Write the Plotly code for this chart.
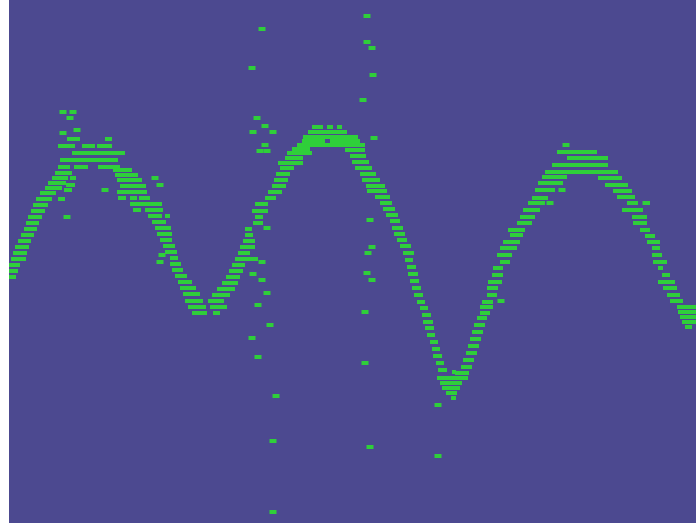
import plotly.graph_objects as go

# Each band segment: list of horizontal runs (start x, end x, level)
rise_1 = [
    (9, 16, 277), (9, 18, 271), (9, 20, 265), (11, 26, 259), (13, 27, 253), (15, 29, 247),
    (18, 31, 241), (21, 34, 235), (24, 37, 229), (26, 39, 223), (28, 42, 217), (31, 45, 211),
    (33, 48, 205), (36, 52, 199), (58, 65, 199), (40, 56, 193), (45, 62, 188), (64, 72, 190),
    (48, 66, 183), (66, 75, 185), (52, 68, 178), (70, 76, 178), (55, 72, 173),
]
peak_1 = [
    (58, 70, 167), (74, 88, 167), (98, 120, 167), (60, 118, 160), (72, 125, 153),
    (58, 75, 146), (82, 95, 146), (97, 112, 146), (67, 80, 139), (105, 112, 139),
]
fall_1 = [
    (113, 132, 170), (115, 138, 175), (117, 142, 180), (120, 146, 186), (117, 147, 192),
    (118, 126, 198), (130, 137, 198), (139, 150, 198), (130, 162, 204), (133, 141, 210),
    (145, 163, 210), (148, 162, 216), (165, 170, 216), (152, 166, 222), (155, 171, 228),
    (157, 172, 234), (160, 172, 240), (163, 175, 246), (165, 177, 252), (170, 178, 258),
    (170, 181, 264), (172, 183, 270), (175, 187, 276), (178, 192, 282), (180, 196, 288),
    (183, 200, 294), (185, 203, 301), (188, 206, 307), (192, 207, 313),
]
trough_1 = [
    (208, 224, 301), (210, 227, 307), (213, 220, 313),
]
rise_2 = [
    (212, 230, 295), (217, 235, 289), (222, 238, 283), (226, 240, 277), (229, 243, 271),
    (232, 245, 265), (235, 258, 259), (238, 250, 253), (240, 255, 247), (243, 255, 241),
    (245, 253, 235), (245, 252, 229), (253, 263, 223), (255, 263, 217), (252, 268, 211),
    (255, 268, 204), (265, 276, 198), (268, 282, 192), (272, 286, 186), (274, 288, 180),
    (276, 290, 174), (280, 294, 168), (278, 303, 163), (285, 303, 158), (287, 312, 153),
]
peak_2 = [
    (292, 310, 149), (297, 365, 145), (302, 325, 141), (330, 360, 141), (303, 358, 137),
    (308, 347, 132), (312, 323, 127), (327, 333, 127), (337, 342, 127),
]
fall_2 = [
    (345, 365, 150), (350, 366, 156), (352, 369, 162), (355, 372, 168), (360, 376, 174),
    (362, 380, 180), (366, 385, 186), (367, 387, 191), (375, 390, 197), (380, 392, 203),
    (383, 395, 209), (386, 398, 215), (390, 400, 221), (392, 403, 228), (394, 405, 234),
    (397, 407, 240), (400, 411, 246), (403, 414, 253), (405, 413, 260), (407, 416, 267),
    (408, 418, 274), (410, 419, 281), (412, 421, 288), (414, 423, 295), (417, 425, 302),
    (420, 428, 308), (422, 431, 315), (423, 433, 322), (425, 434, 328), (427, 435, 335),
    (430, 438, 342), (432, 440, 349), (433, 442, 356), (436, 444, 363), (438, 447, 370),
]
trough_2 = [
    (452, 456, 372), (437, 468, 378), (440, 462, 383), (442, 460, 388), (446, 457, 393),
    (451, 456, 398),
]
rise_3 = [
    (455, 469, 373), (461, 472, 367), (463, 474, 360), (466, 477, 353), (468, 479, 346),
    (470, 481, 339), (472, 483, 332), (474, 485, 325), (477, 487, 318), (480, 490, 313),
    (480, 493, 307), (482, 493, 302), (487, 497, 295), (487, 498, 288), (488, 502, 282),
    (492, 503, 275), (493, 503, 268), (500, 510, 262), (497, 512, 255), (500, 517, 248),
    (503, 520, 242), (510, 523, 235), (508, 525, 230), (517, 532, 223), (520, 535, 217),
    (523, 540, 210), (528, 545, 203), (532, 548, 198), (535, 555, 190), (538, 563, 183),
    (542, 567, 177),
]
peak_3 = [
    (545, 618, 172), (552, 608, 165), (567, 608, 158), (557, 597, 152),
]
fall_3 = [
    (598, 622, 178), (605, 628, 185), (613, 632, 191), (617, 635, 197), (627, 638, 203),
    (643, 650, 203), (622, 643, 210), (632, 647, 217), (633, 647, 223), (640, 650, 230),
    (645, 655, 236), (647, 660, 242), (652, 660, 248), (652, 662, 255), (653, 667, 262),
    (658, 663, 268), (662, 670, 275), (658, 675, 282), (663, 677, 288), (667, 680, 295),
    (670, 683, 301), (677, 696, 307), (678, 696, 312), (680, 696, 317), (682, 696, 322),
    (685, 692, 327),
]

# Scattered single samples (spikes)
spike_x = [
    63, 73, 70, 77, 63, 67, 105, 155, 160, 162, 160,
    262, 367, 252, 367, 372, 373, 363, 257, 265, 253, 273, 374, 265, 260, 267,
    253, 262, 267, 258, 270, 252, 258, 276, 273, 273,
    365, 365, 370, 370, 372, 368, 367, 372, 262, 267,
    438, 438, 501, 550, 562, 646, 566,
]
spike_y = [
    112, 112, 118, 130, 133, 217, 190, 178, 185, 255, 262,
    29, 16, 68, 42, 48, 75, 100, 118, 126, 132, 132, 138, 145, 151, 151,
    274, 280, 293, 305, 325, 338, 357, 396, 441, 512,
    312, 363, 447, 220, 247, 253, 273, 280, 262, 228,
    456, 405, 301, 203, 190, 203, 145,
]

GREEN = "#2fcf3a"

segments = [rise_1, peak_1, fall_1, trough_1, rise_2, peak_2, fall_2,
            trough_2, rise_3, peak_3, fall_3]
seg_x, seg_y = [], []
for seg in segments:
    for x0, x1, lvl in seg:
        seg_x += [x0, x1, None]
        seg_y += [lvl, lvl, None]

fig = go.Figure()
fig.add_trace(go.Scatter(
    x=seg_x, y=seg_y, mode="lines",
    line=dict(color=GREEN, width=4),
    hoverinfo="skip", showlegend=False,
))
fig.add_trace(go.Scatter(
    x=spike_x, y=spike_y, mode="markers",
    marker=dict(symbol="line-ew", size=5, color=GREEN,
                line=dict(color=GREEN, width=4)),
    showlegend=False,
))

fig.update_layout(
    width=696, height=526,
    margin=dict(l=9, r=0, t=0, b=3),
    paper_bgcolor="white",
    plot_bgcolor="#4c4990",
    xaxis=dict(range=[9, 696], visible=False, fixedrange=True),
    yaxis=dict(range=[523, 0], visible=False, fixedrange=True),
)

fig.write_html(
    "out.html",
    config={"displayModeBar": False},
    post_script="document.body.style.margin='0';document.body.style.overflow='hidden';",
)
